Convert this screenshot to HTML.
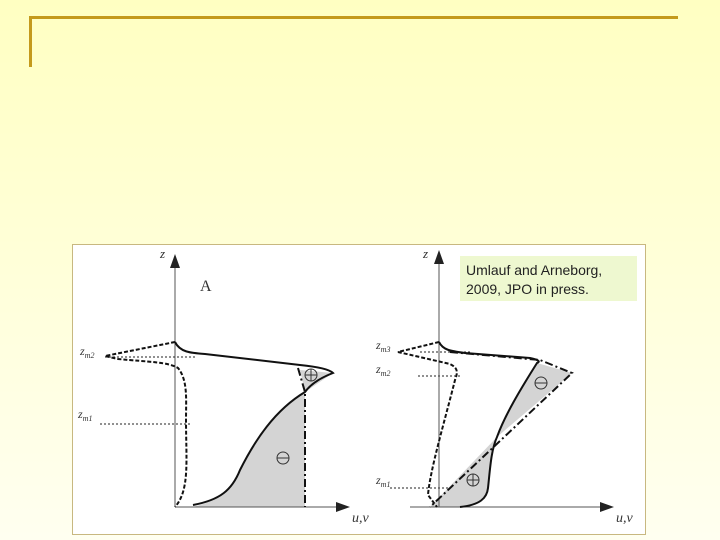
<!DOCTYPE html>
<html><head><style>
html,body{margin:0;padding:0}
body{width:720px;height:540px;overflow:hidden;background:linear-gradient(#ffffc2 0%,#fffff0 100%);position:relative;font-family:"Liberation Sans",sans-serif}
</style></head><body>
<div style="position:absolute;left:29px;top:16px;width:649px;height:3px;background:#c49a1c"></div>
<div style="position:absolute;left:29px;top:16px;width:3px;height:51px;background:#c49a1c"></div>
<svg width="720" height="540" style="position:absolute;left:0;top:0">
<rect x="72.5" y="244.5" width="573" height="290" fill="#fff" stroke="#c8b880"/>
<g font-family="Liberation Serif,serif" font-style="italic" fill="#333">
<text x="160" y="258" font-size="13">z</text>
<text x="423" y="258" font-size="13">z</text>
<text x="200" y="291" font-size="16" font-style="normal">A</text>
<text x="80" y="355" font-size="12">z<tspan font-size="8" dy="3">m2</tspan></text>
<text x="78" y="418" font-size="12">z<tspan font-size="8" dy="3">m1</tspan></text>
<text x="352" y="522" font-size="14">u,v</text>
<text x="376" y="349" font-size="12">z<tspan font-size="8" dy="3">m3</tspan></text>
<text x="376" y="373" font-size="12">z<tspan font-size="8" dy="3">m2</tspan></text>
<text x="376" y="484" font-size="12">z<tspan font-size="8" dy="3">m1</tspan></text>
<text x="616" y="522" font-size="14">u,v</text>
</g>
<!-- left panel -->
<path d="M305,392 L305,507 L193,507 C220,500 232,490 240,470 C255,440 275,410 305,392 Z" fill="#d4d4d4"/>
<path d="M300,370 L333,373 L305,392 Z" fill="#d4d4d4"/>
<line x1="175" y1="507" x2="175" y2="262" stroke="#555" stroke-width="1"/>
<polygon points="175,254 170,268 180,268" fill="#222"/>
<line x1="175" y1="507" x2="342" y2="507" stroke="#555"/>
<polygon points="350,507 336,502 336,512" fill="#222"/>
<g stroke="#222" stroke-dasharray="2,2" stroke-width="1" fill="none">
<line x1="105" y1="357" x2="195" y2="357"/>
<line x1="100" y1="424" x2="192" y2="424"/>
<line x1="420" y1="352" x2="470" y2="352"/>
<line x1="418" y1="376" x2="462" y2="376"/>
<line x1="390" y1="488" x2="460" y2="488"/>
</g>
<path d="M175,342 C180,352 190,353 205,354 L300,365 C320,367 330,370 333,373 C320,378 310,385 305,392 C275,410 255,440 240,470 C232,490 220,500 193,505" fill="none" stroke="#111" stroke-width="2"/>
<path d="M175,342 L105,356 L118,359 C150,362 168,362 178,368 C188,380 186,400 186,420 C186,460 190,490 175,507" fill="none" stroke="#111" stroke-width="2" stroke-dasharray="4,2"/>
<path d="M298,368 L305,392 L305,507" fill="none" stroke="#111" stroke-width="2" stroke-dasharray="8,3,2,3"/>
<circle cx="311" cy="375" r="6" fill="none" stroke="#333"/><line x1="305" y1="375" x2="317" y2="375" stroke="#333"/><line x1="311" y1="369" x2="311" y2="381" stroke="#333"/>
<circle cx="283" cy="458" r="6" fill="none" stroke="#333"/><line x1="277" y1="458" x2="289" y2="458" stroke="#333"/>
<!-- right panel -->
<path d="M537,363 L572,373 L497,437 C505,415 520,390 537,363 Z" fill="#d4d4d4"/>
<path d="M497,437 L430,507 L460,507 C480,505 487,498 488,488 C490,470 491,450 497,437 Z" fill="#d4d4d4"/>
<line x1="439" y1="507" x2="439" y2="258" stroke="#555"/>
<polygon points="439,250 434,264 444,264" fill="#222"/>
<line x1="410" y1="507" x2="605" y2="507" stroke="#555"/>
<polygon points="614,507 600,502 600,512" fill="#222"/>
<path d="M439,342 C443,350 450,351 465,353 L530,358 C540,360 540,362 537,363 C520,390 505,415 497,437 C491,450 490,470 488,488 C487,498 480,505 460,507" fill="none" stroke="#111" stroke-width="2"/>
<path d="M450,352 L540,360 L572,373 L430,507" fill="none" stroke="#111" stroke-width="2" stroke-dasharray="8,3,2,3"/>
<path d="M439,342 L398,352 L450,364 C458,368 458,372 455,380 C445,420 430,470 428,495 L437,507" fill="none" stroke="#111" stroke-width="2" stroke-dasharray="4,2"/>
<circle cx="541" cy="383" r="6" fill="none" stroke="#333"/><line x1="535" y1="383" x2="547" y2="383" stroke="#333"/>
<circle cx="473" cy="480" r="6" fill="none" stroke="#333"/><line x1="467" y1="480" x2="479" y2="480" stroke="#333"/><line x1="473" y1="474" x2="473" y2="486" stroke="#333"/>
<rect x="460" y="256" width="177" height="45" fill="#eef8d0"/>
<text x="466" y="275" font-size="14" fill="#222" font-family="Liberation Sans,sans-serif">Umlauf and Arneborg,</text>
<text x="466" y="294" font-size="14" fill="#222" font-family="Liberation Sans,sans-serif">2009, JPO in press.</text>
</svg>
</body></html>
